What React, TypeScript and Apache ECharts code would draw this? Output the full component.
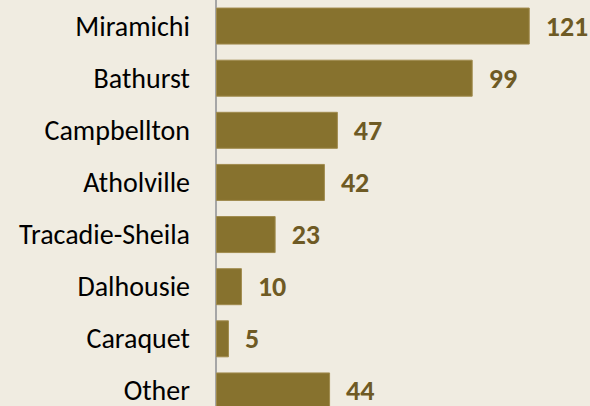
import React, { useEffect, useRef } from "react";
import * as echarts from "echarts";

const categories = [
  "Miramichi",
  "Bathurst",
  "Campbellton",
  "Atholville",
  "Tracadie-Sheila",
  "Dalhousie",
  "Caraquet",
  "Other",
];
const values = [121, 99, 47, 42, 23, 10, 5, 44];

export default function App() {
  const ref = useRef<HTMLDivElement>(null);
  useEffect(() => {
    if (!ref.current) return;
    const chart = echarts.init(ref.current, null, { renderer: "svg" });
    chart.setOption({
      animation: false,
      backgroundColor: "#F0ECE1",
      grid: { left: 216, top: 0, width: 363, bottom: 0, containLabel: false },
      xAxis: {
        type: "value",
        min: 0,
        max: 140,
        show: false,
      },
      yAxis: {
        type: "category",
        data: categories,
        inverse: true,
        axisLine: { show: true, lineStyle: { color: "#A6A6A6", width: 2 } },
        axisTick: { show: false },
        axisLabel: {
          color: "#000000",
          fontFamily: "Carlito, Lato, sans-serif",
          fontSize: 28,
          lineHeight: 22,
          margin: 26,
        },
        splitLine: { show: false },
      },
      series: [
        {
          type: "bar",
          data: values,
          barCategoryGap: "29%",
          itemStyle: { color: "#87722E", borderColor: "#A08B4E", borderWidth: 1 },
          label: {
            show: true,
            position: "right",
            distance: 16,
            color: "#6E5A24",
            fontWeight: "bold",
            fontFamily: "Carlito, Lato, sans-serif",
            fontSize: 28,
            lineHeight: 22,
          },
        },
      ],
    });
    return () => chart.dispose();
  }, []);
  return (
    <div
      style={{
        position: "fixed",
        left: 0,
        top: 0,
        width: 590,
        height: 406,
        overflow: "hidden",
        background: "#F0ECE1",
      }}
    >
      <div ref={ref} style={{ width: 590, height: 417 }} />
    </div>
  );
}
